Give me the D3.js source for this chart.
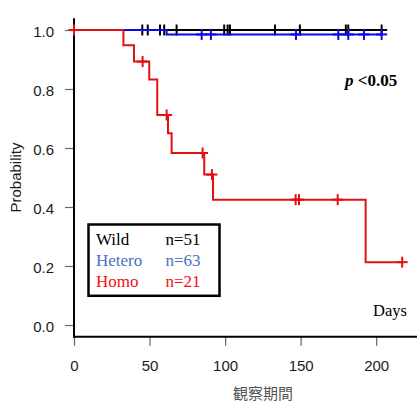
<!DOCTYPE html>
<html>
<head>
<meta charset="utf-8">
<script src="https://cdn.jsdelivr.net/npm/d3@7"></script>
<style>
  body { margin: 0; background: #fff; }
  svg { display: block; }
</style>
</head>
<body>
<svg id="chart" width="417" height="403"></svg>
<script>
// Kaplan-Meier curves (days, probability after the drop)
const groups = ["Wild", "Hetero", "Homo"];
const groupN = [51, 63, 21];

const wildDrops = [];
const wildCensors = [45.2, 48.8, 56.9, 59.7, 67.9, 99.4, 101.7, 103.2, 133, 149.5, 179.9, 181.5, 203.6];
const wildEnd = 203.6;

const heteroDrops = [[61.3, 0.985]];
const heteroCensors = [84.5, 90.6, 146.9, 174.9, 181.5, 191.9, 203.6];
const heteroEnd = 203.6;

const homoDrops = [[32.7, 0.948], [39.7, 0.893], [49.8, 0.832], [55.1, 0.712], [62.2, 0.65],
  [64.6, 0.583], [86.2, 0.51], [92, 0.425], [193, 0.213]];
const homoCensors = [0, 45.4, 61.3, 85.1, 91.3, 146.7, 148.9, 174.5, 217.2];
const homoEnd = 217.2;

const xTicks = [0, 50, 100, 150, 200];
const yTicks = [0, 0.2, 0.4, 0.6, 0.8, 1.0];

const lineColors = ["#000000", "#0a0ae6", "#e41010"];
const textColors = ["#000000", "#4472c4", "#f01010"];

const svg = d3.select("#chart");

const x = d3.scaleLinear().domain([0, 227]).range([74, 417]);
const y = d3.scaleLinear().domain([0, 1]).range([325, 30]);

// axes
const yAxis = d3.axisLeft(y).tickValues(yTicks).tickFormat(d3.format(".1f")).tickSize(9).tickPadding(11);
const xAxis = d3.axisBottom(x).tickValues(xTicks).tickFormat(d3.format("d")).tickSize(9).tickPadding(15);

const gy = svg.append("g").attr("transform", `translate(${x(0)},0)`).call(yAxis);
const gx = svg.append("g").attr("transform", `translate(0,${y(-0.04)})`).call(xAxis);

[gx, gy].forEach(g => {
  g.select(".domain").remove();
  g.selectAll(".tick line").attr("stroke", "#666").attr("stroke-width", 1.2);
  g.selectAll(".tick text")
    .attr("fill", "#1a1a1a")
    .style("font-family", "Liberation Sans, Arial, sans-serif")
    .style("font-size", "15px");
});
gy.selectAll(".tick text").attr("dy", "0.42em");

// L-shaped box
svg.append("line")
  .attr("x1", x(0)).attr("x2", x(0))
  .attr("y1", y(1.04)).attr("y2", y(-0.04))
  .attr("stroke", "#000").attr("stroke-width", 2);
svg.append("line")
  .attr("x1", x(0) - 1).attr("x2", x(227))
  .attr("y1", y(-0.04)).attr("y2", y(-0.04))
  .attr("stroke", "#000").attr("stroke-width", 2);

// axis titles
svg.append("text")
  .attr("transform", `translate(21,${(y(1.04) + y(-0.04)) / 2}) rotate(-90)`)
  .attr("text-anchor", "middle")
  .attr("fill", "#1a1a1a")
  .style("font-family", "Liberation Sans, Arial, sans-serif")
  .style("font-size", "15px")
  .text("Probability");

svg.append("text")
  .attr("x", 263).attr("y", 399)
  .attr("text-anchor", "middle")
  .attr("fill", "#555")
  .style("font-family", "Noto Sans CJK JP, sans-serif")
  .style("font-size", "15px")
  .text("観察期間");

// survival curves
function buildSteps(drops, end) {
  let pts = [{ t: 0, s: 1 }];
  drops.forEach(d => pts.push({ t: d[0], s: d[1] }));
  pts.push({ t: end, s: pts[pts.length - 1].s });
  return pts;
}
function survAt(drops, t) {
  let s = 1;
  drops.forEach(d => { if (d[0] <= t) s = d[1]; });
  return s;
}

const line = d3.line()
  .x(d => x(d.t))
  .y(d => y(d.s))
  .curve(d3.curveStepAfter);

const curves = [
  [wildDrops, wildCensors, wildEnd],
  [heteroDrops, heteroCensors, heteroEnd],
  [homoDrops, homoCensors, homoEnd]
];

const arm = 5.5;
curves.forEach((c, i) => {
  svg.append("path")
    .datum(buildSteps(c[0], c[2]))
    .attr("fill", "none")
    .attr("stroke", lineColors[i])
    .attr("stroke-width", 2)
    .attr("d", line);

  // censor marks (+)
  const marks = svg.append("g")
    .attr("stroke", lineColors[i])
    .attr("stroke-width", 2);
  c[1].forEach(t => {
    const cx = x(t), cy = y(survAt(c[0], t));
    marks.append("line").attr("x1", cx).attr("x2", cx).attr("y1", cy - arm).attr("y2", cy + arm);
    marks.append("line").attr("x1", cx - arm).attr("x2", cx + arm).attr("y1", cy).attr("y2", cy);
  });
});

// p value and Days
const pText = svg.append("text")
  .attr("x", 345).attr("y", 86)
  .style("font-family", "Liberation Serif, Times New Roman, serif")
  .style("font-size", "17px")
  .style("font-weight", "bold")
  .attr("fill", "#000");
pText.append("tspan").style("font-style", "italic").text("p");
pText.append("tspan").text(" <0.05");

svg.append("text")
  .attr("x", 373).attr("y", 316)
  .style("font-family", "Liberation Serif, Times New Roman, serif")
  .style("font-size", "16.5px")
  .attr("fill", "#000")
  .text("Days");

// legend
const lg = svg.append("g");
lg.append("rect")
  .attr("x", 88.5).attr("y", 224.5)
  .attr("width", 131).attr("height", 71.3)
  .attr("fill", "#fff")
  .attr("stroke", "#000")
  .attr("stroke-width", 2.5);

const legendBase = [245, 266, 286.7];
groups.forEach((g, i) => {
  lg.append("text")
    .attr("x", 96).attr("y", legendBase[i])
    .attr("fill", textColors[i])
    .style("font-family", "Liberation Serif, Times New Roman, serif")
    .style("font-size", "17px")
    .text(g);
  lg.append("text")
    .attr("x", 165.5).attr("y", legendBase[i])
    .attr("fill", textColors[i])
    .style("font-family", "Liberation Serif, Times New Roman, serif")
    .style("font-size", "17px")
    .text("n=" + groupN[i]);
});
</script>
</body>
</html>
